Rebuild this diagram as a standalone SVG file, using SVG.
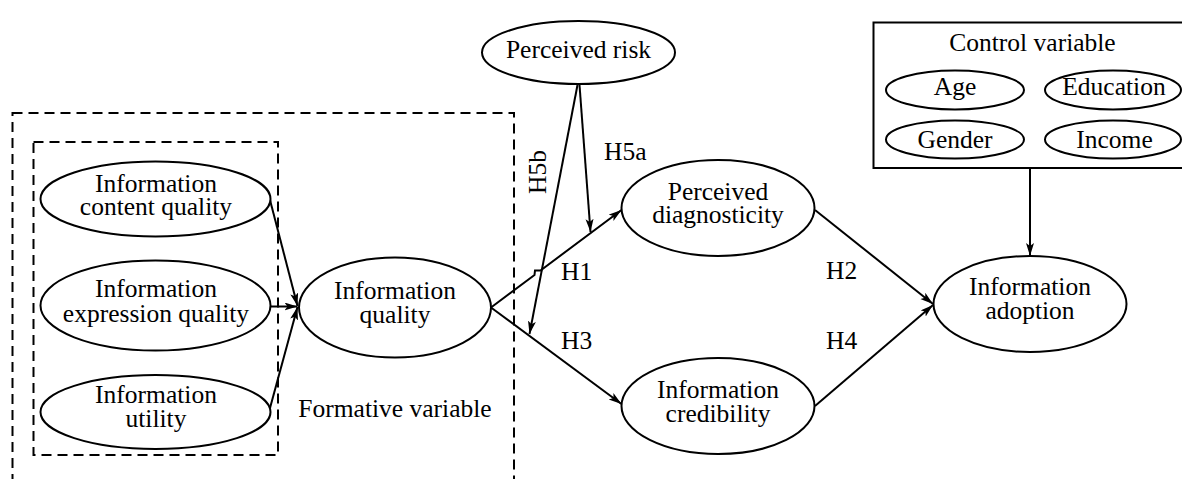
<svg xmlns="http://www.w3.org/2000/svg" width="1182" height="479" viewBox="0 0 1182 479">
<defs>
<style>
.e{fill:#fff;stroke:#000;stroke-width:2}
.t{font-family:'Liberation Serif','Times New Roman',serif;font-size:25.5px;fill:#000;text-anchor:middle}
.l{font-family:'Liberation Serif','Times New Roman',serif;font-size:25.5px;fill:#000}
.c{fill:none;stroke:#000;stroke-width:2}
.d{fill:none;stroke:#000;stroke-width:2;stroke-dasharray:10 6}
</style>
<marker id="ar" markerUnits="userSpaceOnUse" markerWidth="14" markerHeight="10" refX="13" refY="4" orient="auto">
<path d="M0,0 L13,4 L0,8 L3,4 z" fill="#000"/>
</marker>
</defs>
<rect width="1182" height="479" fill="#fff"/>

<g id="formative-box">
<rect x="12.5" y="113" width="501.5" height="380" class="d"/>
<rect x="33.5" y="142" width="244.5" height="313" class="d"/>
<text x="395" y="417" class="t">Formative variable</text>
</g>

<g id="connectors">
<line x1="270" y1="200" x2="297.5" y2="306" class="c" marker-end="url(#ar)"/>
<line x1="271" y1="306.5" x2="297.5" y2="306.5" class="c" marker-end="url(#ar)"/>
<line x1="270" y1="408" x2="297.5" y2="307" class="c" marker-end="url(#ar)"/>
<path d="M491,307.5 L534.5,275 L535,270.5 L540.5,270.5 L621.5,210" class="c" marker-end="url(#ar)"/>
<line x1="491" y1="307.5" x2="621.5" y2="404" class="c" marker-end="url(#ar)"/>
<line x1="579.5" y1="85" x2="590.5" y2="232" class="c" marker-end="url(#ar)"/>
<line x1="577.5" y1="85" x2="529.5" y2="334" class="c" marker-end="url(#ar)"/>
<line x1="815" y1="210" x2="933" y2="304" class="c" marker-end="url(#ar)"/>
<line x1="815" y1="406" x2="933" y2="305" class="c" marker-end="url(#ar)"/>
<line x1="1030" y1="168" x2="1030" y2="256" class="c" marker-end="url(#ar)"/>
<text x="604" y="160" class="l">H5a</text>
<text x="0" y="0" class="l" text-anchor="middle" transform="translate(546,172) rotate(-90)">H5b</text>
<text x="561" y="280" class="l">H1</text>
<text x="561" y="349" class="l">H3</text>
<text x="826" y="279" class="l">H2</text>
<text x="826" y="349" class="l">H4</text>
</g>

<g id="info-content-quality">
<ellipse cx="155.5" cy="199" rx="115" ry="37.5" class="e"/>
<text x="156" y="192" class="t">Information</text>
<text x="156" y="215" class="t">content quality</text>
</g>
<g id="info-expression-quality">
<ellipse cx="155.5" cy="305.5" rx="115" ry="45" class="e"/>
<text x="156" y="297" class="t">Information</text>
<text x="156" y="321.5" class="t">expression quality</text>
</g>
<g id="info-utility">
<ellipse cx="155.5" cy="412" rx="115" ry="37" class="e"/>
<text x="156" y="403" class="t">Information</text>
<text x="156" y="427" class="t">utility</text>
</g>
<g id="info-quality">
<ellipse cx="395" cy="307.5" rx="96" ry="50" class="e"/>
<text x="395" y="299" class="t">Information</text>
<text x="395" y="323" class="t">quality</text>
</g>
<g id="perceived-risk">
<ellipse cx="578.5" cy="52.5" rx="96.5" ry="31.5" class="e"/>
<text x="578.5" y="58" class="t">Perceived risk</text>
</g>
<g id="perceived-diagnosticity">
<ellipse cx="718" cy="208" rx="96.5" ry="48" class="e"/>
<text x="718" y="200" class="t">Perceived</text>
<text x="718" y="223" class="t">diagnosticity</text>
</g>
<g id="info-credibility">
<ellipse cx="718" cy="406" rx="96.5" ry="48" class="e"/>
<text x="718" y="398" class="t">Information</text>
<text x="718" y="422" class="t">credibility</text>
</g>
<g id="info-adoption">
<ellipse cx="1030" cy="304" rx="96.5" ry="48" class="e"/>
<text x="1030" y="295" class="t">Information</text>
<text x="1030" y="319" class="t">adoption</text>
</g>
<g id="control-variable">
<rect x="873.5" y="22.5" width="320" height="145.5" fill="#fff" stroke="#000" stroke-width="2"/>
<text x="1032.5" y="51" class="t">Control variable</text>
<g id="age">
<ellipse cx="955" cy="90" rx="69" ry="19.5" class="e"/>
<text x="955" y="95" class="t">Age</text>
</g>
<g id="education">
<ellipse cx="1113" cy="90" rx="68" ry="19.5" class="e"/>
<text x="1114" y="95" class="t">Education</text>
</g>
<g id="gender">
<ellipse cx="955" cy="139.5" rx="69" ry="19" class="e"/>
<text x="955" y="148" class="t">Gender</text>
</g>
<g id="income">
<ellipse cx="1113" cy="139.5" rx="68" ry="19" class="e"/>
<text x="1114.5" y="148" class="t">Income</text>
</g>
</g>
</svg>
